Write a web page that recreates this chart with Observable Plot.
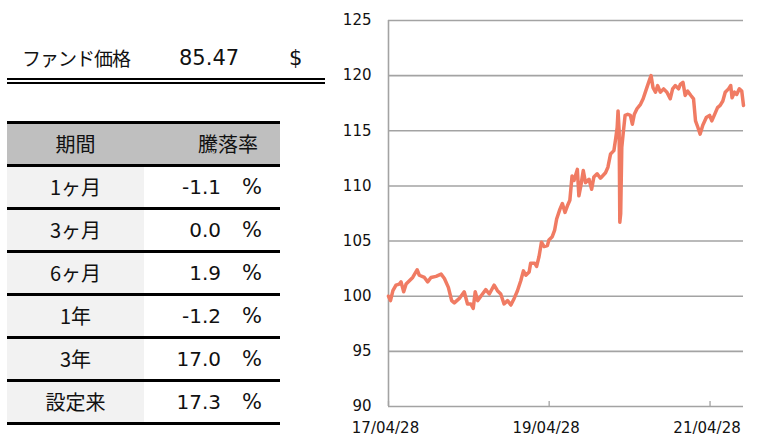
<!DOCTYPE html>
<html><head><meta charset="utf-8">
<script src="https://cdn.jsdelivr.net/npm/d3@7"></script>
<script src="https://cdn.jsdelivr.net/npm/@observablehq/plot@0.6"></script>
<style>
html,body{margin:0;padding:0;background:#fff;}
body{width:763px;height:437px;overflow:hidden;position:relative;font-family:"DejaVu Sans",sans-serif;color:#111;}
.jp{font-family:"Noto Sans CJK JP",sans-serif;}
.abs{position:absolute;}
#dbl{position:absolute;left:7px;top:78px;width:318px;height:0;border-top:6px double #000;}
.row{position:absolute;left:7px;width:273px;height:40px;border-top:3px solid #000;}
.row.last{border-bottom:3px solid #000;}
.lc{position:absolute;left:0;top:0;width:137px;height:40px;line-height:40px;text-align:center;font-size:20px;}
.rc{position:absolute;left:137px;top:0;width:136px;height:40px;background:#fff;}
.val{position:absolute;right:59px;top:0;line-height:40px;font-size:20px;}
.pct{position:absolute;left:235px;top:0;line-height:40px;font-size:21px;}
#chart{position:absolute;left:330px;top:0;}
</style></head>
<body>
<div class="abs jp" style="left:22px;top:44px;height:28px;line-height:28px;font-size:19px;letter-spacing:-1px;">ファンド価格</div>
<div class="abs" id="priceVal" style="left:179px;top:44px;height:28px;line-height:28px;font-size:21px;"></div>
<div class="abs" id="priceCur" style="left:289px;top:44px;height:28px;line-height:28px;font-size:21px;"></div>
<div id="dbl"></div>
<div id="table"></div>
<div id="chart"></div>
<script>
const fundLabel = "ファンド価格";
const fundPrice = "85.47";
const currency = "$";
const headers = ["期間", "騰落率"];
const periods = ["1ヶ月", "3ヶ月", "6ヶ月", "1年", "3年", "設定来"];
const returns = [-1.1, 0.0, 1.9, -1.2, 17.0, 17.3];

const dates = ["2017-04-28","2017-05-07","2017-05-18","2017-06-01","2017-06-16","2017-06-24","2017-07-06","2017-07-17","2017-08-01","2017-08-16","2017-09-05","2017-09-15","2017-10-08","2017-10-23","2017-11-07","2017-11-30","2017-12-23","2018-01-07","2018-01-25","2018-02-09","2018-02-21","2018-03-16","2018-04-07","2018-04-22","2018-05-07","2018-05-18","2018-05-27","2018-06-07","2018-06-29","2018-07-14","2018-07-30","2018-08-21","2018-09-05","2018-09-20","2018-10-05","2018-10-21","2018-11-05","2018-11-20","2018-12-05","2018-12-20","2019-01-01","2019-01-12","2019-01-27","2019-02-03","2019-02-21","2019-03-02","2019-03-13","2019-03-24","2019-04-05","2019-04-20","2019-04-27","2019-05-12","2019-05-23","2019-06-01","2019-06-16","2019-06-27","2019-07-09","2019-07-22","2019-07-31","2019-08-10","2019-08-19","2019-09-03","2019-09-10","2019-09-18","2019-09-30","2019-10-10","2019-10-26","2019-11-07","2019-11-17","2019-12-02","2019-12-17","2020-01-09","2020-01-20","2020-02-01","2020-02-16","2020-02-25","2020-03-02","2020-03-06","2020-03-11","2020-03-14","2020-03-18","2020-03-23","2020-03-29","2020-04-07","2020-04-19","2020-05-01","2020-05-10","2020-05-19","2020-05-31","2020-06-16","2020-06-28","2020-07-13","2020-07-25","2020-08-03","2020-08-12","2020-08-23","2020-09-02","2020-09-14","2020-09-29","2020-10-14","2020-10-29","2020-11-09","2020-11-21","2020-12-06","2020-12-14","2020-12-26","2021-01-05","2021-01-16","2021-01-31","2021-02-12","2021-02-21","2021-03-04","2021-03-14","2021-03-26","2021-04-11","2021-04-26","2021-05-06","2021-05-17","2021-06-01","2021-06-13","2021-06-25","2021-07-06","2021-07-21","2021-07-31","2021-08-06","2021-08-17","2021-08-27","2021-09-08","2021-09-19","2021-09-27"];
const prices = [100.0,99.6,100.5,101.0,101.1,101.3,100.4,101.1,101.4,101.7,102.4,101.9,101.7,101.3,101.7,101.8,102.0,101.6,100.8,99.6,99.4,99.8,100.4,99.3,99.3,98.9,100.4,99.6,100.2,100.6,100.2,101.0,100.5,100.2,99.3,99.6,99.2,99.8,100.5,101.4,102.3,101.9,102.2,103.0,103.0,102.7,103.6,104.9,104.5,104.6,105.1,105.4,106.0,107.0,107.9,108.4,107.6,108.3,108.7,110.9,110.5,111.5,109.1,109.9,111.4,110.3,110.6,109.7,110.8,111.1,110.7,111.2,111.7,112.9,113.2,114.4,115.3,116.8,115.0,106.7,107.5,113.5,114.7,116.4,116.5,116.4,115.6,116.5,117.0,117.4,117.9,118.8,119.5,120.0,118.9,118.5,119.1,118.5,118.8,118.5,117.9,118.8,119.1,118.8,119.2,119.4,118.2,118.6,118.2,117.9,115.9,115.3,114.7,115.5,116.2,116.4,115.9,116.4,117.1,117.3,117.7,118.5,118.8,119.1,118.0,118.5,118.3,118.8,118.6,117.3];
const xDomain = ["2017-04-28", "2021-09-27"];
const xTicks = ["2017-04-28", "2019-04-28", "2021-04-28"];
const yTicks = [90, 95, 100, 105, 110, 115, 120, 125];

document.getElementById("priceVal").textContent = fundPrice;
document.getElementById("priceCur").textContent = currency;

// table
const tbl = document.getElementById("table");
const rows = [[headers[0], headers[1], true]].concat(periods.map((p, i) => [p, returns[i], false]));
rows.forEach((r, i) => {
  const row = document.createElement("div");
  row.className = "row" + (i === rows.length - 1 ? " last" : "");
  row.style.top = (121 + i * 43) + "px";
  const lc = document.createElement("div");
  lc.className = "lc jp";
  lc.style.background = r[2] ? "#bfbfbf" : "#f2f2f2";
  lc.textContent = r[0];
  const rc = document.createElement("div");
  rc.className = "rc";
  if (r[2]) rc.style.background = "#bfbfbf";
  row.appendChild(lc); row.appendChild(rc);
  if (r[2]) {
    const h = document.createElement("div");
    h.className = "jp";
    h.style.cssText = "position:absolute;right:22px;top:0;line-height:40px;font-size:20px;";
    h.textContent = r[1];
    row.appendChild(h);
  } else {
    const v = document.createElement("div");
    v.className = "val";
    v.textContent = r[1].toFixed(1);
    const pc = document.createElement("div");
    pc.className = "pct";
    pc.textContent = "%";
    row.appendChild(v); row.appendChild(pc);
  }
  tbl.appendChild(row);
});

// chart
const parse = d3.utcParse("%Y-%m-%d");
const series = dates.map((d, i) => ({date: parse(d), value: prices[i]}));
const gray = "#a3a3a3";
const chart = Plot.plot({
  width: 433, height: 437,
  marginLeft: 58, marginRight: 20, marginTop: 20, marginBottom: 31,
  style: {fontFamily: "DejaVu Sans, sans-serif", fontSize: "15px", color: "#111", background: "transparent"},
  x: {type: "utc", domain: xDomain.map(parse), label: null},
  y: {domain: [yTicks[0], yTicks[yTicks.length - 1]], label: null},
  marks: [
    Plot.gridY(yTicks, {stroke: gray, strokeOpacity: 1, strokeWidth: 1.6}),
    Plot.ruleX([parse(xDomain[0])], {stroke: gray, strokeWidth: 1.6}),
    Plot.ruleX(xTicks.map(parse), {stroke: gray, strokeWidth: 1.3, insetTop: 381}),
    Plot.axisY(yTicks, {tickSize: 0, tickPadding: 17, fontSize: 15, label: null}),
    Plot.axisX(xTicks.map(parse), {tickSize: 0, tickPadding: 16, dx: -3, fontSize: 15, label: null, tickFormat: d3.utcFormat("%y/%m/%d"), style: {letterSpacing: "0.5px"}}),
    Plot.line(series, {x: "date", y: "value", stroke: "#f07b63", strokeWidth: 3.5, strokeLinejoin: "round", curve: "linear"})
  ]
});
document.getElementById("chart").appendChild(chart);
</script>
</body></html>
